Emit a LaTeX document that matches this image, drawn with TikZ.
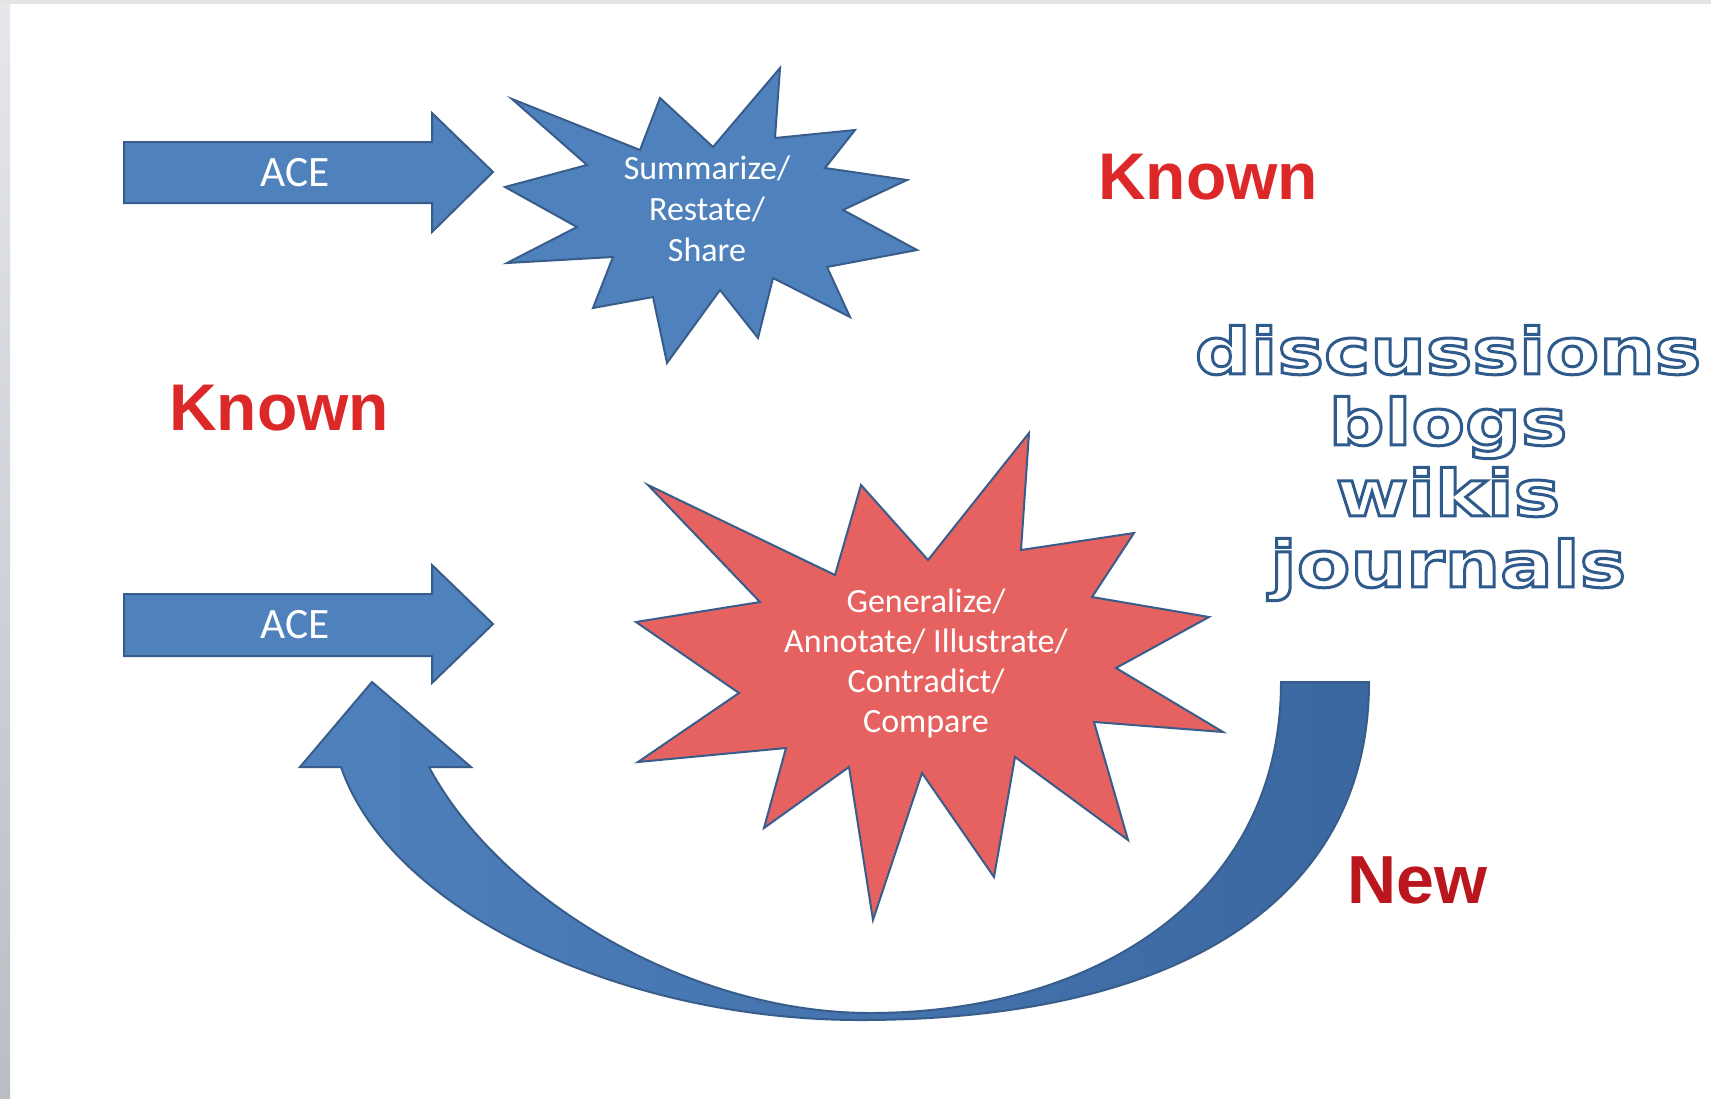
\documentclass[tikz,border=0pt]{standalone}
\usepackage{fontspec}
\setmainfont{Carlito}
\newfontfamily\knownfont{Liberation Sans}
\newfontfamily\mediafont[FakeStretch=1.22]{DejaVu Sans}
\newcommand{\hollowline}[1]{\special{pdf:literal direct 1 Tr 1.5 w}#1\special{pdf:literal direct 0 Tr}}

\begin{document}
\begin{tikzpicture}[x=0.5pt,y=0.5pt,yscale=-1,xscale=1,
  blockarrow/.style={draw={rgb, 255:red, 56; green, 93; blue, 138 },fill={rgb, 255:red, 79; green, 129; blue, 189 },line width=1,line join=miter},
  burst/.style={draw={rgb, 255:red, 56; green, 93; blue, 138 },line width=1,line join=miter},
  startext/.style={text=white,align=center,inner sep=0},
  known/.style={text={rgb, 255:red, 220; green, 40; blue, 40 },font=\knownfont\bfseries\fontsize{33}{40}\selectfont,inner sep=0}
]
\useasboundingbox (0,0) rectangle (1711,1098);

%Shape: Page [id:bg]
\fill [white] (0,0) rectangle (1711,1098);
\shade [top color={rgb, 255:red, 229; green, 231; blue, 234 },bottom color={rgb, 255:red, 186; green, 190; blue, 195 }] (0,0) rectangle (10,1098);
\fill [color={rgb, 255:red, 228; green, 228; blue, 228 }] (0,0) rectangle (1711,4);

%Shape: Right Arrow [id:ace1]
\draw [blockarrow] (124,142) -- (432,142) -- (432,113) -- (493,172) -- (432,232) -- (432,203) -- (124,203) -- cycle;
%Shape: Right Arrow [id:ace2]
\draw [blockarrow] (124,594) -- (432,594) -- (432,565) -- (493,624) -- (432,683) -- (432,656) -- (124,656) -- cycle;

%Shape: Curved Up Arrow [id:loop]
\draw [blockarrow,left color={rgb, 255:red, 79; green, 129; blue, 189 },right color={rgb, 255:red, 59; green, 103; blue, 160 }] (1369,682) .. controls (1369,900) and (1180,1020) .. (860,1020) .. controls (620,1020) and (390,910) .. (341,767) -- (300,767) -- (372,682) -- (471,767) -- (429,767) .. controls (500,900) and (690,1013) .. (870,1013) .. controls (1090,1013) and (1281,900) .. (1281,682) -- cycle;

%Shape: Explosion [id:sumburst]
\draw [burst,fill={rgb, 255:red, 79; green, 129; blue, 189 }] (780,68) -- (775,138) -- (855,130) -- (825,168) -- (907,180) -- (843,210) -- (917,250) -- (827,267) -- (850,317) -- (773,278) -- (758,338) -- (720,290) -- (667,363) -- (653,297) -- (593,308) -- (613,257) -- (507,263) -- (577,227) -- (505,187) -- (587,165) -- (512,99) -- (640,150) -- (660,98) -- (713,147) -- cycle;

%Shape: Explosion [id:genburst]
\draw [burst,fill={rgb, 255:red, 229; green, 98; blue, 97 }] (1029,433) -- (1021,550) -- (1134,533) -- (1092,597) -- (1209,617) -- (1116,668) -- (1223,732) -- (1094,722) -- (1128,840) -- (1015,757) -- (994,877) -- (922,773) -- (873,920) -- (849,767) -- (764,828) -- (786,748) -- (638,762) -- (739,693) -- (636,622) -- (760,602) -- (648,485) -- (835,575) -- (861,485) -- (928,560) -- cycle;

% Text Node
\node (acetop) [text=white,font=\fontsize{21.7}{26}\selectfont] at (295,173) {ACE};
% Text Node
\node (acebottom) [text=white,font=\fontsize{21.7}{26}\selectfont] at (295,625) {ACE};
% Text Node
\node (sumtext) [startext,font=\fontsize{17}{20.5}\selectfont] at (707,209) {Summarize/\\Restate/\\Share};
% Text Node
\node (gentext) [startext,font=\fontsize{17}{20}\selectfont] at (926,663) {Generalize/\\Annotate/ Illustrate/\\Contradict/\\Compare};
% Text Node
\node (knownright) [known] at (1208,177) {Known};
% Text Node
\node (knownleft) [known] at (279,408) {Known};
% Text Node
\node (newlabel) [inner sep=0,text={rgb, 255:red, 185; green, 22; blue, 30 },font=\knownfont\bfseries\fontsize{34}{40}\selectfont] at (1417,880) {New};
% Text Node
\node (media) [inner sep=0,align=center,text={rgb, 255:red, 46; green, 90; blue, 140 },font=\mediafont\bfseries\fontsize{32}{35.5}\selectfont] at (1448,463) {\hollowline{discussions}\\\hollowline{blogs}\\\hollowline{wikis}\\\hollowline{journals}};

\end{tikzpicture}
\end{document}
